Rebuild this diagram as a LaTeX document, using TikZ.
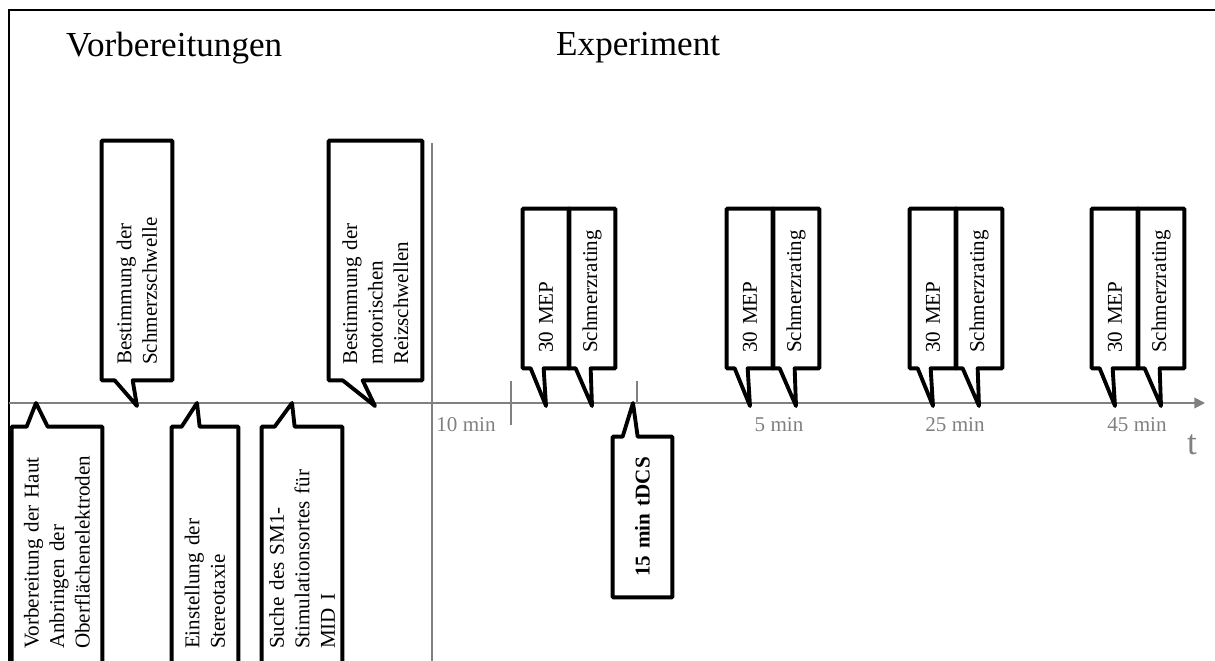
\documentclass[tikz,border=0pt]{standalone}
\usepackage{fontspec}
\setmainfont{Liberation Serif}
\usetikzlibrary{calc, arrows.meta}

\tikzset{
  bubble/.style 2 args={rotate=90, inner xsep=0.3cm, inner ysep=0pt,
    text width=#1, minimum height=#2, align=left, font=\fontsize{12}{14.5}\selectfont},
  outline/.style={line width=2.2pt, line join=round},
  timeaxis/.style={gray, line width=1pt},
  minlabel/.style={anchor=base, text=gray, font=\fontsize{12}{14.5}\selectfont},
  heading/.style={anchor=base west, font=\fontsize{20}{24}\selectfont},
}

\begin{document}
\begin{tikzpicture}[x=0.02cm, y=-0.02cm]
    \useasboundingbox (0,0) rectangle (1215,661);
    \clip (0,0) rectangle (1215,661);
    \draw[line width=1pt] (9,661) -- (9,10) -- (1215,10);

    \node[heading] (prep) at (60,57) {Vorbereitungen};
    \node[heading] (exp) at (550,56) {Experiment};

    % time axis
    \coordinate (start) at (9,403);
    \coordinate (end) at (1205,403);
    \draw[timeaxis, -{Triangle[length=6pt, width=6pt]}] (start) -- (end);
    \draw[timeaxis] (432,143) -- (432,661);
    \draw[timeaxis] (511,381) -- (511,425);
    \draw[timeaxis] (637,381) -- (637,403);
    \node[minlabel] (m10) at (466,432) {10 min};
    \node[minlabel] (m5) at (779,432) {5 min};
    \node[minlabel] (m25) at (955,432) {25 min};
    \node[minlabel] (m45) at (1137,432) {45 min};
    \node[anchor=base, text=gray, font=\fontsize{20}{24}\selectfont] (t) at (1192,455) {t};

    % preparations below the axis
    \coordinate (tiphaut) at (36,403);
    \coordinate (tipstereo) at (197,403);
    \coordinate (tipsuche) at (292,403);
    \node[bubble={4.14cm}{1.8cm}] (haut) at (57,545.5) {Vorbereitung der Haut\\Anbringen der\\Oberflächenelektroden};
    \node[bubble={4.14cm}{1.32cm}] (stereo) at (205,545.5) {Einstellung der\\Stereotaxie};
    \node[bubble={4.14cm}{1.6cm}] (suche) at (302,545.5) {Suche des SM1-\\Stimulationsortes für\\MID I};
    \draw[outline] (haut.north west) -- (haut.north east) -- ($(haut.north east)+(15,0)$) -- (tiphaut)
        -- ($(haut.north east)+(36,0)$) -- (haut.south east) -- (haut.south west) -- cycle;
    \draw[outline] (stereo.north west) -- (stereo.north east) -- ($(stereo.north east)+(10,0)$) -- (tipstereo)
        -- ($(stereo.north east)+(28,0)$) -- (stereo.south east) -- (stereo.south west) -- cycle;
    \draw[outline] (suche.north west) -- (suche.north east) -- ($(suche.north east)+(13,0)$) -- (tipsuche)
        -- ($(suche.north east)+(33,0)$) -- (suche.south east) -- (suche.south west) -- cycle;

    % preparations above the axis
    \coordinate (tipschwelle) at (137,406);
    \coordinate (tipmotor) at (375,406);
    \node[bubble={4.18cm}{1.4cm}] (schwelle) at (137,260.5) {Bestimmung der\\Schmerzschwelle};
    \node[bubble={4.18cm}{1.86cm}] (motor) at (375.5,260.5) {Bestimmung der\\motorischen\\Reizschwellen};
    \draw[outline] (schwelle.north east) -- (schwelle.south east) -- (schwelle.south west)
        -- ($(schwelle.north west)+(31,0)$) -- (tipschwelle) -- ($(schwelle.north west)+(13,0)$) -- (schwelle.north west) -- cycle;
    \draw[outline] (motor.north east) -- (motor.south east) -- (motor.south west)
        -- ($(motor.north west)+(34,0)$) -- (tipmotor) -- ($(motor.north west)+(14,0)$) -- (motor.north west) -- cycle;

    % stimulation
    \coordinate (tiptdcs) at (633,403);
    \node[bubble={2.6cm}{1.18cm}, align=center, font=\fontsize{12}{14.5}\selectfont\bfseries] (tdcs) at (642.5,517) {15 min tDCS};
    \draw[outline] (tdcs.north west) -- (tdcs.north east) -- ($(tdcs.north east)+(10,0)$) -- (tiptdcs)
        -- ($(tdcs.north east)+(25,0)$) -- (tdcs.south east) -- (tdcs.south west) -- cycle;

    % measurements
    \foreach \g/\l in {1/523, 2/727, 3/910, 4/1092} {
        \coordinate (tipmep\g) at (\l+23,406);
        \coordinate (tiprating\g) at (\l+69,406);
        \node[bubble={2.58cm}{0.92cm}] (mep\g) at (\l+23,288.5) {30 MEP};
        \node[bubble={2.58cm}{0.92cm}] (rating\g) at (\l+69,288.5) {Schmerzrating};
        \draw[outline] (mep\g.north east) -- (mep\g.south east) -- (mep\g.south west)
            -- ($(mep\g.north west)+(21,0)$) -- (tipmep\g) -- ($(mep\g.north west)+(8,0)$) -- (mep\g.north west) -- cycle;
        \draw[outline] (rating\g.north east) -- (rating\g.south east) -- (rating\g.south west)
            -- ($(rating\g.north west)+(22,0)$) -- (tiprating\g) -- ($(rating\g.north west)+(7,0)$) -- (rating\g.north west) -- cycle;
    }
\end{tikzpicture}
\end{document}
